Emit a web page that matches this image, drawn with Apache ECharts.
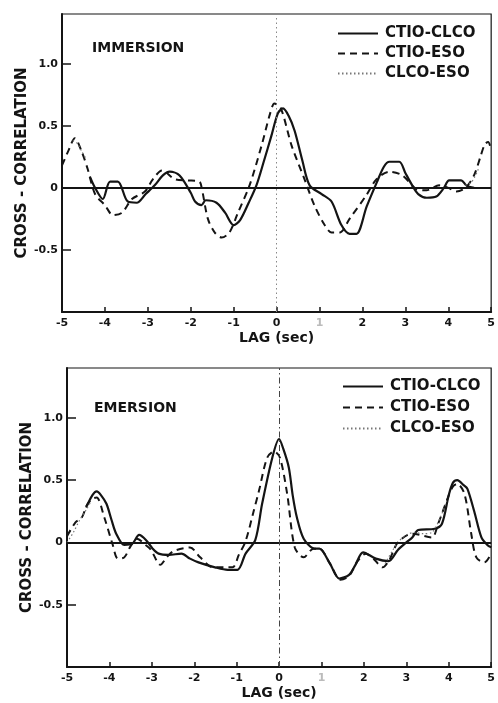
<!DOCTYPE html>
<html><head><meta charset="utf-8">
<script src="https://cdn.jsdelivr.net/npm/echarts/dist/echarts.min.js"></script>
<style>html,body{margin:0;padding:0;background:#fff}#c{width:498px;height:703px}</style>
</head><body><div id="c"></div>
<script>
// ---- data (lag in seconds, cross-correlation) ----
const seriesNames = ['CTIO-CLCO', 'CTIO-ESO', 'CLCO-ESO'];
const panelTitles = ['IMMERSION', 'EMERSION'];
const xTickValues = [-5, -4, -3, -2, -1, 0, 1, 2, 3, 4, 5];
const yTickValues = [-0.5, 0, 0.5, 1.0];
const yTickText = ['-0.5', '0', '0.5', '1.0'];

// IMMERSION
const immSolidLag = [-4.35,-4.23,-4.05,-3.88,-3.7,-3.47,-3.26,-3.05,-2.84,-2.65,-2.49,-2.26,-2.0,-1.9,-1.75,-1.65,-1.4,-1.2,-1.0,-0.85,-0.65,-0.47,-0.3,-0.12,0.03,0.15,0.28,0.42,0.6,0.77,1.05,1.28,1.51,1.7,1.86,2.1,2.33,2.5,2.63,2.86,3.0,3.16,3.3,3.5,3.72,3.9,4.02,4.3,4.42,4.6];
const immSolidVal = [0.09,0.0,-0.09,0.05,0.05,-0.11,-0.12,-0.05,0.02,0.1,0.13,0.1,-0.04,-0.11,-0.14,-0.1,-0.12,-0.2,-0.3,-0.26,-0.12,0.02,0.21,0.42,0.6,0.64,0.58,0.46,0.22,0.02,-0.05,-0.11,-0.3,-0.37,-0.37,-0.15,0.04,0.17,0.21,0.21,0.12,0.02,-0.05,-0.08,-0.07,0.0,0.06,0.06,0.02,0.0];
const immDashLag = [-5,-4.85,-4.7,-4.55,-4.4,-4.23,-4.0,-3.81,-3.6,-3.37,-3.07,-2.88,-2.67,-2.37,-2.07,-1.8,-1.74,-1.6,-1.44,-1.28,-1.1,-0.9,-0.63,-0.35,-0.15,-0.05,0.1,0.35,0.65,0.88,1.12,1.28,1.47,1.7,2.09,2.33,2.63,2.93,3.26,3.49,3.79,4.0,4.19,4.4,4.6,4.75,4.85,4.93,5.0];
const immDashVal = [0.18,0.3,0.4,0.3,0.15,-0.05,-0.14,-0.22,-0.2,-0.09,-0.03,0.07,0.14,0.07,0.06,0.05,-0.01,-0.25,-0.36,-0.4,-0.36,-0.2,0.02,0.34,0.6,0.68,0.64,0.34,0.07,-0.14,-0.3,-0.36,-0.36,-0.25,-0.06,0.07,0.13,0.1,-0.01,-0.02,0.02,0.0,-0.03,0.0,0.1,0.25,0.35,0.37,0.3];
const immDotLag = [-4.75,-4.65,-4.55,-4.45,null,4.4,4.55,4.7];
const immDotVal = [0.38,0.36,0.3,0.24,null,0.02,0.05,0.15];

// EMERSION
const emSolidLag = [-4.55,-4.4,-4.3,-4.2,-4.07,-3.95,-3.84,-3.65,-3.46,-3.3,-3.14,-2.98,-2.84,-2.6,-2.3,-2.1,-1.9,-1.51,-1.21,-0.98,-0.79,-0.56,-0.4,-0.16,0.0,0.1,0.23,0.32,0.42,0.58,0.84,0.95,1.2,1.42,1.65,1.8,1.98,2.28,2.58,2.8,3.0,3.14,3.28,3.67,3.84,4.0,4.1,4.2,4.35,4.44,4.6,4.77,4.91,5.0];
const emSolidVal = [0.28,0.38,0.41,0.38,0.31,0.18,0.07,-0.02,-0.01,0.06,0.02,-0.05,-0.09,-0.1,-0.09,-0.13,-0.16,-0.2,-0.22,-0.22,-0.09,0.02,0.31,0.68,0.83,0.75,0.6,0.38,0.2,0.03,-0.05,-0.05,-0.17,-0.29,-0.26,-0.18,-0.08,-0.13,-0.15,-0.06,0.0,0.04,0.1,0.11,0.15,0.38,0.48,0.5,0.46,0.43,0.25,0.04,-0.02,-0.04];
const emDashLag = [-5,-4.8,-4.65,-4.53,-4.4,-4.3,-4.12,-3.93,-3.8,-3.65,-3.5,-3.35,-3.15,-3.02,-2.8,-2.65,-2.49,-2.1,-1.86,-1.56,-1.1,-0.95,-0.79,-0.6,-0.47,-0.28,-0.12,0.02,0.19,0.37,0.58,0.81,0.95,1.2,1.45,1.65,1.85,2.05,2.25,2.44,2.6,2.8,3.14,3.6,3.75,3.98,4.1,4.2,4.37,4.53,4.65,4.84,5.0];
const emDashVal = [0.05,0.16,0.2,0.3,0.35,0.36,0.2,-0.01,-0.13,-0.12,-0.03,0.03,-0.02,-0.06,-0.18,-0.12,-0.07,-0.04,-0.12,-0.2,-0.2,-0.1,0.01,0.25,0.42,0.68,0.73,0.68,0.39,-0.04,-0.12,-0.05,-0.05,-0.17,-0.3,-0.27,-0.15,-0.09,-0.14,-0.2,-0.14,0.0,0.07,0.04,0.15,0.36,0.45,0.47,0.39,0.07,-0.12,-0.16,-0.09];
const emDotLag = [-5,-4.85,-4.7,-4.55,-4.45,null,2.5,2.65,2.8,3.0,3.2,3.4,3.6,3.8,3.95];
const emDotVal = [0.0,0.08,0.18,0.26,0.32,null,-0.17,-0.08,0.0,0.06,0.08,0.07,0.08,0.2,0.33];

function pairs(xs, ys) { return xs.map((x, i) => (x === null ? [null, null] : [x, ys[i]])); }

const INK = '#141414';
const FONT = 'DejaVu Sans';

const panels = [
  { solid: pairs(immSolidLag, immSolidVal), dash: pairs(immDashLag, immDashVal), dot: pairs(immDotLag, immDotVal),
    grid: { left: 62, right: 6, top: 14, height: 298 }, vline: [1.5, 3] , vcolor: '#888' },
  { solid: pairs(emSolidLag, emSolidVal), dash: pairs(emDashLag, emDashVal), dot: pairs(emDotLag, emDotVal),
    grid: { left: 67, right: 1, top: 368, height: 299 }, vline: [6, 3, 1.5, 3], vcolor: '#444' }
];

const grid = [], xAxis = [], yAxis = [], series = [], legend = [], title = [];

panels.forEach((p, i) => {
  grid.push(Object.assign({ show: true, borderColor: INK, borderWidth: 1.2, backgroundColor: 'transparent' }, p.grid));
  xAxis.push({
    type: 'value', gridIndex: i, min: -5, max: 5, interval: 1,
    name: 'LAG (sec)', nameLocation: 'middle', nameGap: 19,
    nameTextStyle: { fontFamily: FONT, fontWeight: 'bold', fontSize: 14, color: INK },
    axisLine: { onZero: false, lineStyle: { color: INK, width: 2 } },
    axisTick: { inside: true, length: 5, lineStyle: { color: INK, width: 1.5 } },
    splitLine: { show: false },
    axisLabel: { fontFamily: FONT, fontWeight: 'bold', fontSize: 11, margin: 6,
      color: (v) => (Number(v) === 1 ? '#bbb' : INK),
      formatter: (v) => (xTickValues.indexOf(v) >= 0 ? String(v) : '') }
  });
  yAxis.push({
    type: 'value', gridIndex: i, min: -1, max: 1.4, interval: 0.5,
    name: 'CROSS - CORRELATION', nameLocation: 'middle', nameGap: 32, nameRotate: 90,
    nameMoveOverlap: false,
    nameTextStyle: { fontFamily: FONT, fontWeight: 'bold', fontSize: 15, color: INK },
    axisLine: { show: true, onZero: false, lineStyle: { color: INK, width: 2 } },
    axisTick: { inside: true, length: 9, lineStyle: { color: INK, width: 1.5 } },
    splitLine: { show: false },
    axisLabel: { fontFamily: FONT, fontWeight: 'bold', fontSize: 11, color: INK, margin: 4,
      showMaxLabel: false, showMinLabel: false,
      formatter: (v) => { const k = yTickValues.findIndex(t => Math.abs(t - v) < 1e-6); return k >= 0 ? yTickText[k] : ''; } }
  });
  series.push({
    name: seriesNames[0], type: 'line', xAxisIndex: i, yAxisIndex: i, data: p.solid,
    showSymbol: false, symbol: 'none', smooth: 0.3, connectNulls: false,
    lineStyle: { color: INK, width: 2.2, type: 'solid' }, itemStyle: { color: INK },
    markLine: { silent: true, symbol: 'none', label: { show: false },
      data: [
        { yAxis: 0, lineStyle: { color: INK, width: 2, type: 'solid' } },
        { xAxis: 0, lineStyle: { color: p.vcolor, width: 1, type: p.vline } }
      ] }
  });
  series.push({
    name: seriesNames[1], type: 'line', xAxisIndex: i, yAxisIndex: i, data: p.dash,
    showSymbol: false, symbol: 'none', smooth: 0.3,
    lineStyle: { color: INK, width: 2, type: [7, 5] }, itemStyle: { color: INK }
  });
  series.push({
    name: seriesNames[2], type: 'line', xAxisIndex: i, yAxisIndex: i, data: p.dot,
    showSymbol: false, symbol: 'none', smooth: 0.3, connectNulls: false,
    lineStyle: { color: '#777', width: 1.2, type: [1.5, 2.5] }, itemStyle: { color: '#777' }
  });
});

const legendCommon = {
  orient: 'vertical', itemWidth: 40, itemHeight: 14, selectedMode: false,
  data: seriesNames, itemStyle: { opacity: 0, borderWidth: 0 },
  textStyle: { fontFamily: FONT, fontWeight: 'bold', fontSize: 15, color: INK, padding: [0, 0, 0, 2] }
};
legend.push(Object.assign({ left: 332, top: 21, itemGap: 5 }, legendCommon));
legend.push(Object.assign({ left: 337, top: 374, itemGap: 6 }, legendCommon));

title.push({ text: panelTitles[0], left: 87, top: 36,
  textStyle: { fontFamily: FONT, fontWeight: 'bold', fontSize: 14, color: INK } });
title.push({ text: panelTitles[1], left: 89, top: 396,
  textStyle: { fontFamily: FONT, fontWeight: 'bold', fontSize: 14, color: INK } });

const chart = echarts.init(document.getElementById('c'), null, { renderer: 'canvas' });
chart.setOption({ backgroundColor: '#fff', animation: false, grid, xAxis, yAxis, series, legend, title });
</script></body></html>
